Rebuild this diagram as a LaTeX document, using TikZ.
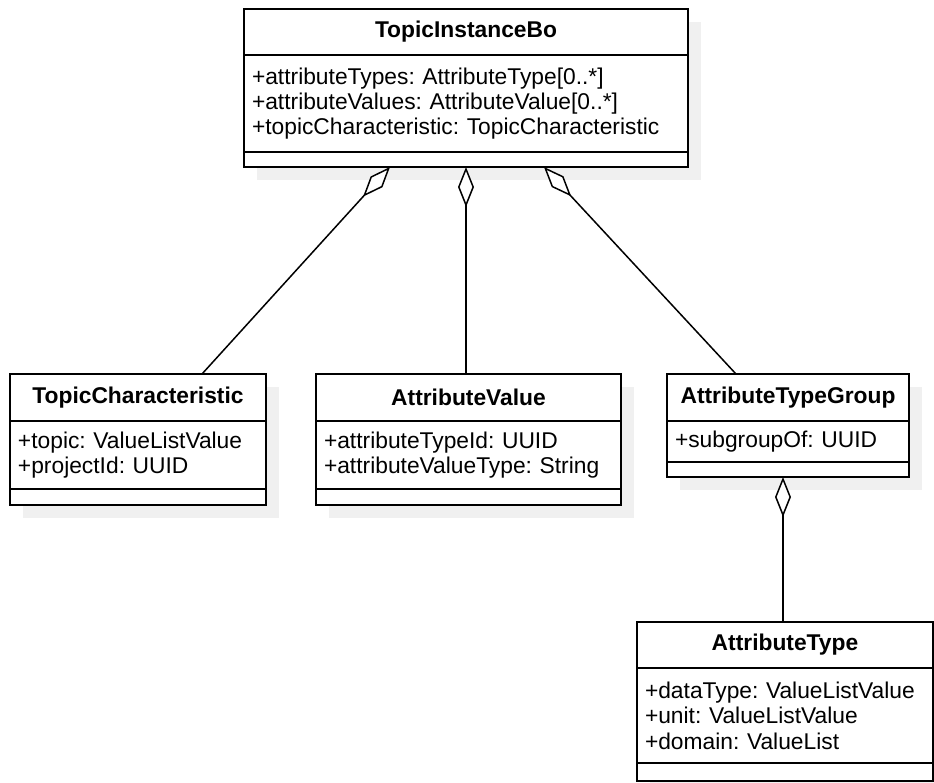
\documentclass[tikz,border=0pt]{standalone}
\usepackage{fontspec}
\setmainfont{Liberation Sans}
\usepackage{xcolor}
\usepackage{tikz}
\usetikzlibrary{arrows.meta, positioning, shadows}
\frenchspacing

\begin{document}
\begin{tikzpicture}[
        x=0.5pt, y=-0.5pt,
        umlpart/.style={rectangle, draw=black, line width=0.75pt, fill=white, outer sep=0pt,
            drop shadow={shadow xshift=6.5pt, shadow yshift=-6.5pt, fill=black!6, opacity=1},
            font=\fontsize{11.4}{12.7}\selectfont},
        classname/.style={umlpart, font=\fontsize{11.4}{12.7}\selectfont\bfseries, inner sep=0pt},
        classattr/.style={umlpart, align=left, inner xsep=4pt, inner ysep=0pt},
        classops/.style={umlpart, inner sep=0pt},
        aggr/.style={line width=0.75pt, line join=miter, {Diamond[open, fill=white, length=20pt, width=8pt]}-}
    ]
    \useasboundingbox (0,0) rectangle (934,783);

    % Classes
    \node (tibname) [classname, anchor=north west, minimum width=222pt, minimum height=23pt] at (244,9) {TopicInstanceBo};
    \node (tibattr) [classattr, text width=214pt, minimum height=48.5pt, below=0pt of tibname] {+attributeTypes: AttributeType[0..*]\\ +attributeValues: AttributeValue[0..*]\\ +topicCharacteristic: TopicCharacteristic};
    \node (tibops) [classops, minimum width=222pt, minimum height=7.5pt, below=0pt of tibattr] {};

    \node (tcname) [classname, anchor=north west, minimum width=128pt, minimum height=23.5pt] at (10,374) {TopicCharacteristic};
    \node (tcattr) [classattr, text width=120pt, minimum height=34pt, below=0pt of tcname] {+topic: ValueListValue\\ +projectId: UUID};
    \node (tcops) [classops, minimum width=128pt, minimum height=8pt, below=0pt of tcattr] {};

    \node (avname) [classname, anchor=north west, minimum width=152.5pt, minimum height=23.5pt] at (316,374) {AttributeValue};
    \node (avattr) [classattr, text width=144.5pt, minimum height=34pt, below=0pt of avname] {+attributeTypeId: UUID\\ +attributeValueType: String};
    \node (avops) [classops, minimum width=152.5pt, minimum height=8pt, below=0pt of avattr] {};

    \node (atgname) [classname, anchor=north west, minimum width=121pt, minimum height=23.5pt] at (667,374) {AttributeTypeGroup};
    \node (atgattr) [classattr, text width=113pt, minimum height=20.5pt, below=0pt of atgname] {+subgroupOf: UUID};
    \node (atgops) [classops, minimum width=121pt, minimum height=7.5pt, below=0pt of atgattr] {};

    \node (atname) [classname, anchor=north west, minimum width=148pt, minimum height=23pt] at (637,622) {AttributeType};
    \node (atattr) [classattr, text width=140pt, minimum height=47.5pt, below=0pt of atname] {+dataType: ValueListValue\\ +unit: ValueListValue\\ +domain: ValueList};
    \node (atops) [classops, minimum width=148pt, minimum height=9pt, below=0pt of atattr] {};

    % Aggregations
    \draw [aggr] ([xshift=-38pt]tibops.south) -- ([xshift=32pt]tcname.north);
    \draw [aggr] (tibops.south) -- (tibops.south |- avname.north);
    \draw [aggr] ([xshift=39pt]tibops.south) -- ([xshift=-26pt]atgname.north);
    \draw [aggr] ([xshift=-2.5pt]atgops.south) -- ([xshift=-2.5pt]atgops.south |- atname.north);

\end{tikzpicture}
\end{document}
